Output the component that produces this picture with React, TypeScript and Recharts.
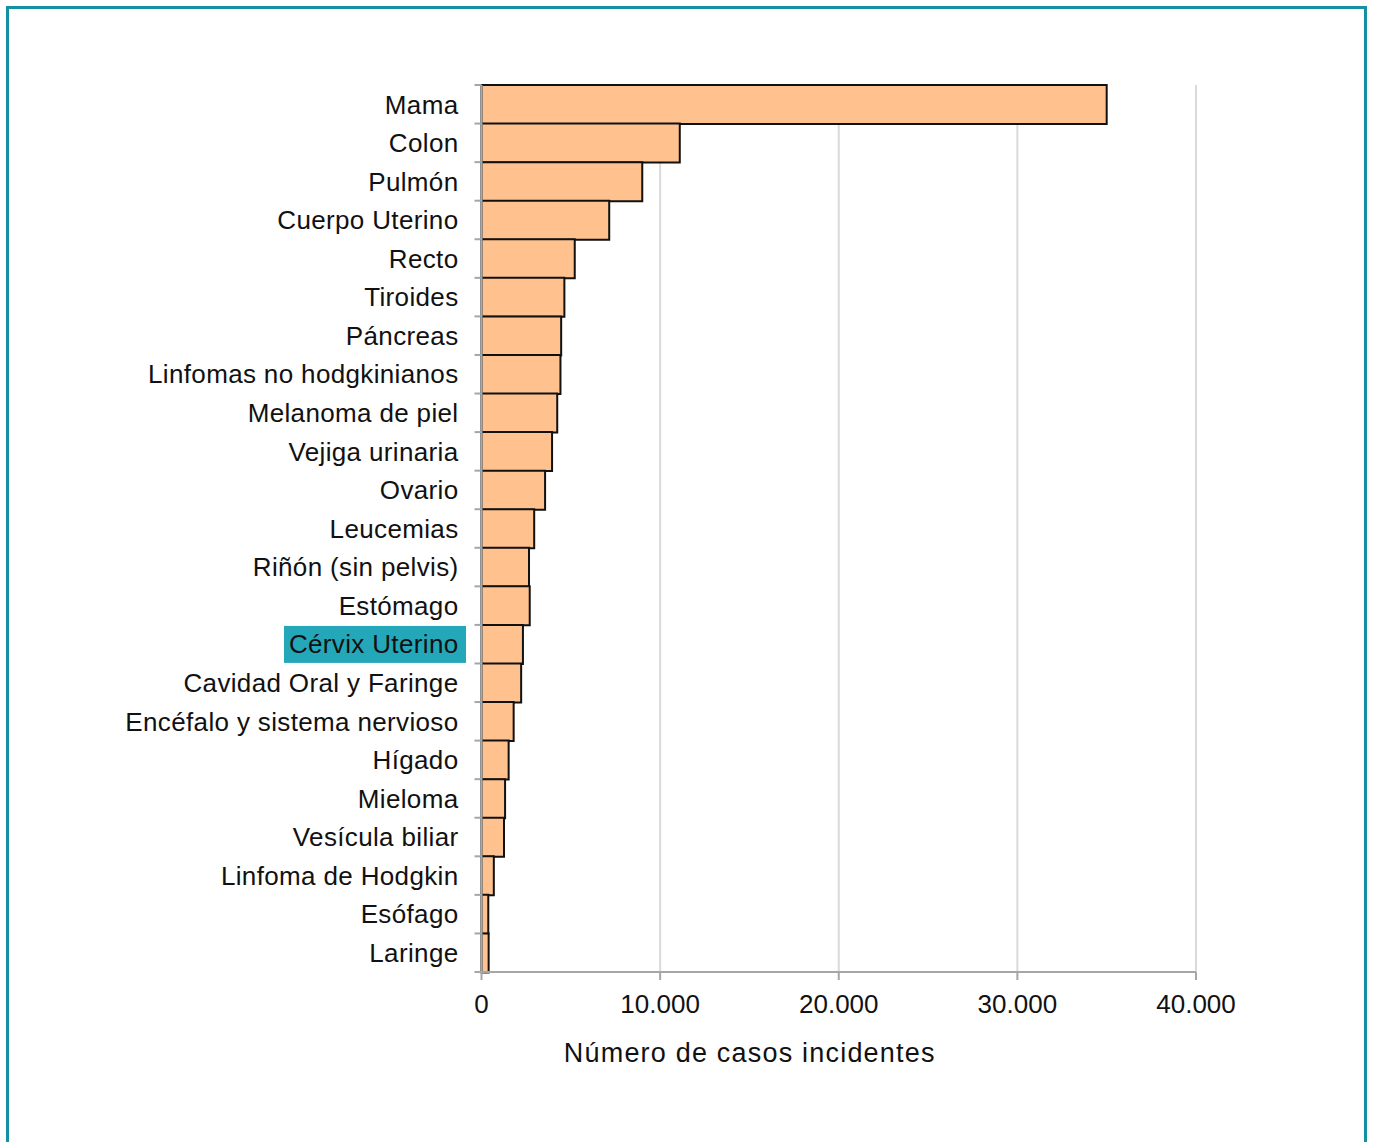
import { BarChart, Bar, XAxis, YAxis, CartesianGrid, Label } from 'recharts'

// Cancer sites, ordered by number of incident cases
const sites = [
  'Mama',
  'Colon',
  'Pulmón',
  'Cuerpo Uterino',
  'Recto',
  'Tiroides',
  'Páncreas',
  'Linfomas no hodgkinianos',
  'Melanoma de piel',
  'Vejiga urinaria',
  'Ovario',
  'Leucemias',
  'Riñón (sin pelvis)',
  'Estómago',
  'Cérvix Uterino',
  'Cavidad Oral y Faringe',
  'Encéfalo y sistema nervioso',
  'Hígado',
  'Mieloma',
  'Vesícula biliar',
  'Linfoma de Hodgkin',
  'Esófago',
  'Laringe',
]

const cases = [
  35000, 11100, 9000, 7150, 5220, 4640, 4460, 4420, 4240, 3950, 3560, 2950,
  2660, 2700, 2320, 2220, 1800, 1520, 1320, 1260, 690, 380, 400,
]

const xTicks = [0, 10000, 20000, 30000, 40000]

const highlighted = 'Cérvix Uterino'

const data = sites.map((site, i) => ({ site, cases: cases[i] }))

const WIDTH = 1373
const HEIGHT = 1142
const MARGIN = { top: 85, right: 177, bottom: 70, left: 81.5 }
const Y_AXIS_WIDTH = 400
const X_AXIS_HEIGHT = 100
const FONT = '"Liberation Sans", Arial, sans-serif'

const plotHeight = HEIGHT - MARGIN.top - MARGIN.bottom - X_AXIS_HEIGHT
const band = plotHeight / sites.length

const formatThousands = (v: number) =>
  v.toString().replace(/\B(?=(\d{3})+(?!\d))/g, '.')

// Category label plus a tick mark on the upper band boundary
function SiteTick(props: any) {
  const { x, y, payload, index } = props
  const isLast = index === sites.length - 1
  const isHighlighted = payload.value === highlighted
  return (
    <g>
      <line x1={x - 7} x2={x} y1={y - band / 2} y2={y - band / 2} stroke="#a6a6a6" strokeWidth={2} />
      {isLast && (
        <line x1={x - 7} x2={x} y1={y + band / 2} y2={y + band / 2} stroke="#a6a6a6" strokeWidth={2} />
      )}
      {isHighlighted && (
        <rect x={x - 197.5} y={y - band / 2 + 1} width={182} height={37} fill="#25a7ba" />
      )}
      <text
        x={x - 23}
        y={y}
        dy="0.355em"
        textAnchor="end"
        fill="#111"
        fontSize={26}
        letterSpacing={0.35}
        fontFamily={FONT}
      >
        {payload.value}
      </text>
    </g>
  )
}

export default function App() {
  return (
    <div style={{ position: 'absolute', left: 0, top: 0, width: WIDTH, height: HEIGHT, background: '#fff', overflow: 'hidden' }}>
      <div
        style={{
          position: 'absolute',
          left: 6,
          top: 6,
          width: 1355,
          height: 1160,
          border: '3px solid #1590a2',
        }}
      />
      <div style={{ position: 'absolute', left: 0, top: 0 }}>
        <BarChart
          width={WIDTH}
          height={HEIGHT}
          data={data}
          layout="vertical"
          margin={MARGIN}
          barCategoryGap={0}
        >
          <CartesianGrid horizontal={false} stroke="#d9d9d9" strokeWidth={2} />
          <XAxis
            type="number"
            domain={[0, 40000]}
            ticks={xTicks}
            tickFormatter={formatThousands}
            height={X_AXIS_HEIGHT}
            stroke="#a6a6a6"
            strokeWidth={2}
            tickSize={8}
            tickMargin={15}
            tick={{ fill: '#111', fontSize: 26, fontFamily: FONT }}
          >
            <Label
              value="Número de casos incidentes"
              position="insideBottom"
              offset={10}
              dx={-89}
              fill="#111"
              fontSize={27}
              letterSpacing={1.2}
              fontFamily={FONT}
            />
          </XAxis>
          <YAxis
            type="category"
            dataKey="site"
            width={Y_AXIS_WIDTH}
            interval={0}
            stroke="#a6a6a6"
            strokeWidth={2}
            tickLine={false}
            tickSize={0}
            tickMargin={0}
            tick={<SiteTick />}
          />
          <Bar
            dataKey="cases"
            fill="#ffc28e"
            stroke="#111"
            strokeWidth={2}
            isAnimationActive={false}
          />
        </BarChart>
      </div>
    </div>
  )
}
